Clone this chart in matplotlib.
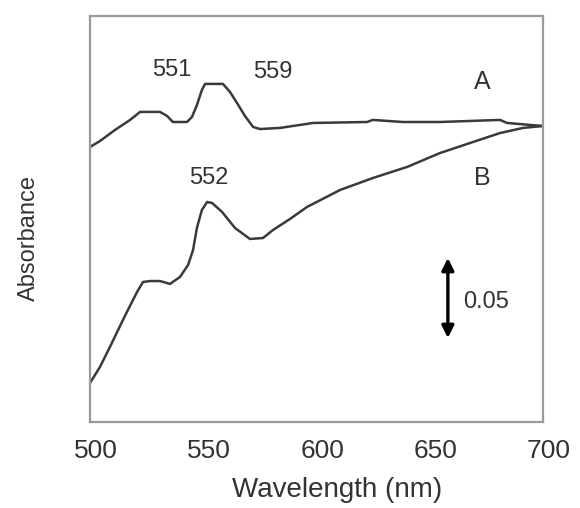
import matplotlib
matplotlib.use("Agg")
import matplotlib.pyplot as plt
import matplotlib.transforms as mtransforms

# ---- data ----
wl_A = [500.0, 504.4, 511.0, 517.7, 522.1, 530.9, 534.0, 536.6, 542.8, 545.0,
        547.2, 549.4, 550.8, 558.7, 561.8, 564.9, 568.4, 572.0, 575.1, 583.9,
        598.5, 622.3, 624.9, 638.2, 654.5, 681.0, 684.1, 700.0]
abs_A = [0.1719, 0.1756, 0.1825, 0.1888, 0.1938, 0.1938, 0.1913, 0.1875, 0.1875, 0.1906,
         0.1981, 0.2075, 0.2113, 0.2113, 0.2063, 0.1994, 0.1913, 0.1844, 0.1831, 0.1838,
         0.1869, 0.1875, 0.1888, 0.1875, 0.1875, 0.1888, 0.1869, 0.1850]

wl_B = [500.0, 504.4, 508.8, 512.4, 516.3, 520.8, 523.4, 526.5, 530.9, 535.3,
        539.7, 543.3, 545.5, 547.2, 549.4, 551.7, 553.9, 558.3, 564.0, 570.6,
        576.4, 580.8, 588.3, 595.8, 610.4, 624.9, 640.0, 654.5, 669.1, 681.0,
        691.2, 700.0]
abs_B = [0.0244, 0.0344, 0.0469, 0.0575, 0.0688, 0.0813, 0.0875, 0.0881, 0.0881, 0.0863,
         0.0906, 0.0981, 0.1075, 0.1213, 0.1325, 0.1375, 0.1369, 0.1313, 0.1213, 0.1144,
         0.1150, 0.1200, 0.1269, 0.1344, 0.1450, 0.1525, 0.1594, 0.1681, 0.1750, 0.1806,
         0.1838, 0.1850]

x_ticks = [500, 550, 600, 650, 700]
x_tick_labels = ["500", "550", "600", "650", "700"]
peak_labels = ["551", "559", "552"]
scale_value = 0.05

plt.rcParams['font.family'] = ['Liberation Sans', 'DejaVu Sans']
text_color = "#333333"

fig = plt.figure(figsize=(5.8, 5.08), dpi=100)
ax = fig.add_axes([90/580, 86/508, 453/580, 406/508])

line_kw = dict(color="#3a3a3a", lw=1.8, solid_joinstyle="round")
ax.plot(wl_A, abs_A, **line_kw)
ax.plot(wl_B, abs_B, **line_kw)

ax.set_xlim(500, 700)
ax.set_ylim(0, 0.25375)

for s in ax.spines.values():
    s.set_color("#9a9a9a")
    s.set_linewidth(1.6)

ax.set_xticks(x_ticks)
ax.set_xticklabels(x_tick_labels, fontsize=19, color=text_color)
ax.tick_params(axis="x", length=0, pad=12)
ax.set_yticks([])
offset = mtransforms.ScaledTranslation(6/100, 0, fig.dpi_scale_trans)
for lab in ax.get_xticklabels():
    lab.set_transform(lab.get_transform() + offset)

ax.set_xlabel("Wavelength (nm)", fontsize=20, color=text_color)
ax.xaxis.set_label_coords((337 - 90) / 453, -(490 - 422) / 406, transform=ax.transAxes)
ax.xaxis.label.set_va("center")
ax.set_ylabel("Absorbance", fontsize=17, color=text_color)
ax.yaxis.set_label_coords((29 - 90) / 453, (422 - 238) / 406, transform=ax.transAxes)
ax.yaxis.label.set_va("center")

ann_kw = dict(fontsize=17, color=text_color, ha="center", va="center")
ax.text(536.2, 0.2200, peak_labels[0], **ann_kw)
ax.text(580.8, 0.2188, peak_labels[1], **ann_kw)
ax.text(552.5, 0.1525, peak_labels[2], **ann_kw)
ax.text(673.0, 0.2125, "A", fontsize=18, color=text_color, ha="center", va="center")
ax.text(673.0, 0.1525, "B", fontsize=18, color=text_color, ha="center", va="center")

ax.annotate("", xy=(658, 0.0525 + scale_value), xytext=(658, 0.0525),
            arrowprops=dict(arrowstyle="<|-|>", color="black", lw=2.4,
                            mutation_scale=18, shrinkA=0, shrinkB=0))
ax.text(664.7, 0.075, "0.05", fontsize=17, color=text_color, ha="left", va="center")

fig.savefig("out.png", dpi=100)
